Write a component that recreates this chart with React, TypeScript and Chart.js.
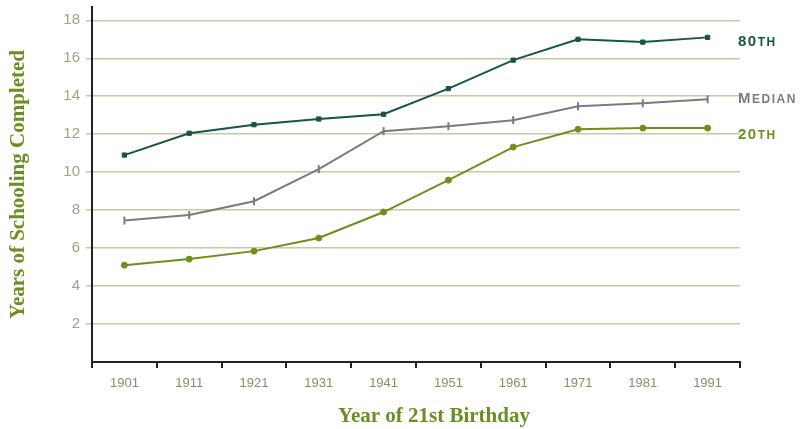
import React, { useEffect, useRef } from "react";
import { Chart, registerables } from "chart.js";

Chart.register(...registerables);

const years = ["1901", "1911", "1921", "1931", "1941", "1951", "1961", "1971", "1981", "1991"];
const p80 = [10.9, 12.05, 12.5, 12.8, 13.05, 14.4, 15.9, 17.0, 16.85, 17.1];
const median = [7.45, 7.74, 8.47, 10.16, 12.16, 12.42, 12.74, 13.47, 13.63, 13.84];
const p20 = [5.1, 5.42, 5.84, 6.53, 7.9, 9.58, 11.32, 12.26, 12.32, 12.32];
const seriesNames = ["80th", "Median", "20th"];
const labelBig = ["80", "M", "20"];
const labelSmall = ["TH", "EDIAN", "TH"];
const labelValues = [16.95, 13.95, 12.05];
const colors = ["#17563f", "#7b7b7b", "#6e8f1c"];
const yTitle = "Years of Schooling Completed";
const xTitle = "Year of 21st Birthday";

const textPlugin = {
  id: "textPlugin",
  afterDraw(chart: any) {
    const ctx = chart.ctx;
    const area = chart.chartArea;
    const y = chart.scales.y;
    ctx.save();
    // right side labels
    labelBig.forEach((big, i) => {
      const py = y.getPixelForValue(labelValues[i]);
      let x = area.right - 2;
      ctx.fillStyle = colors[i];
      ctx.textBaseline = "alphabetic";
      ctx.textAlign = "left";
      (ctx as any).letterSpacing = "1.5px";
      ctx.font = "bold 15px 'Liberation Sans', Arial, sans-serif";
      ctx.fillText(big, x, py + 6);
      x += ctx.measureText(big).width;
      ctx.font = "bold 12px 'Liberation Sans', Arial, sans-serif";
      ctx.fillText(labelSmall[i], x, py + 6);
    });
    (ctx as any).letterSpacing = "0px";
    // axis titles
    ctx.fillStyle = "#6b8e23";
    ctx.font = "bold 21px 'Liberation Serif', 'DejaVu Serif', serif";
    ctx.textAlign = "center";
    ctx.textBaseline = "middle";
    ctx.fillText(xTitle, 434, 417);
    ctx.translate(19, (area.top + area.bottom) / 2);
    ctx.rotate(-Math.PI / 2);
    ctx.fillText(yTitle, 0, 0);
    ctx.restore();
  },
};

export default function App() {
  const ref = useRef<HTMLCanvasElement>(null);
  useEffect(() => {
    if (!ref.current) return;
    const series = [p80, median, p20];
    const styles = ["rect", "line", "circle"];
    const chart = new Chart(ref.current, {
      type: "line",
      data: {
        labels: years,
        datasets: series.map((d, i) => ({
          label: seriesNames[i],
          data: d,
          borderColor: colors[i],
          backgroundColor: colors[i],
          borderWidth: 2,
          pointStyle: styles[i] as any,
          pointRadius: i === 1 ? 4 : 3,
          pointRotation: i === 1 ? 90 : 0,
          pointBorderWidth: i === 1 ? 2 : 1,
          tension: 0,
        })),
      },
      options: {
        animation: false,
        responsive: true,
        maintainAspectRatio: false,
        layout: { padding: { top: 7, right: 71, left: 0, bottom: 0 } },
        plugins: { legend: { display: false }, tooltip: { enabled: false } },
        scales: {
          x: {
            offset: true,
            grid: {
              offset: true,
              drawOnChartArea: false,
              drawTicks: true,
              tickLength: 6,
              color: "#222",
              lineWidth: 2,
            },
            border: { color: "#222", width: 2 },
            ticks: {
              color: "#8c8c6c",
              font: { size: 13, family: "'Liberation Sans', Arial, sans-serif" },
              padding: 8,
            },
            afterFit(scale: any) {
              scale.height = 67;
              scale.paddingLeft = 0;
              scale.paddingRight = 0;
            },
          },
          y: {
            min: 0,
            max: 18.7,
            afterBuildTicks(scale: any) {
              scale.ticks = [2, 4, 6, 8, 10, 12, 14, 16, 18].map((v) => ({ value: v }));
            },
            grid: {
              color: "#c9c7a6",
              lineWidth: 1.5,
              tickLength: 6,
              tickColor: "#c9c7a6",
            },
            border: { color: "#222", width: 2 },
            ticks: {
              color: "#a3a286",
              font: { size: 15, family: "'Liberation Sans', Arial, sans-serif" },
              padding: 6,
            },
            afterFit(scale: any) {
              scale.width = 92;
              scale.paddingTop = 0;
              scale.paddingBottom = 0;
            },
          },
        },
      },
      plugins: [textPlugin],
    });
    return () => chart.destroy();
  }, []);
  return (
    <div style={{ position: "fixed", left: 0, top: 0, width: 811, height: 429, background: "#fff" }}>
      <canvas ref={ref} />
    </div>
  );
}
